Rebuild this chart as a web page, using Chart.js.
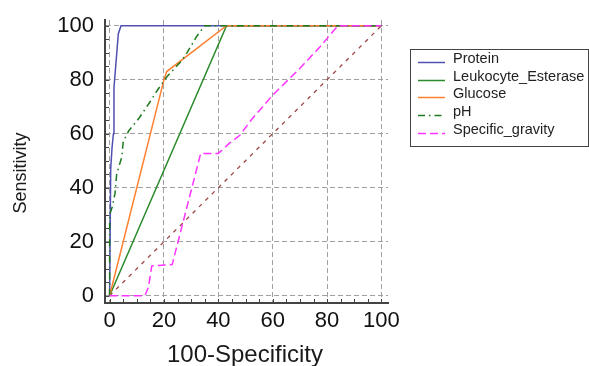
<!DOCTYPE html>
<html>
<head>
<meta charset="utf-8">
<script src="https://cdn.jsdelivr.net/npm/chart.js@4"></script>
<style>
body { margin: 0; background: #fff; }
#wrap { position: relative; width: 589px; height: 366px; }
#legend { position: absolute; left: 410px; top: 49px; width: 177px; height: 96px; border: 1px solid #444;
  font: 14.5px "Liberation Sans", Arial, sans-serif; color: #222; }
.row { position: absolute; left: 0; width: 176px; height: 18px; line-height: 18px; white-space: nowrap; }
.row svg { position: absolute; left: 7px; top: 0; }
.row span { position: absolute; left: 42px; top: 0; }
</style>
</head>
<body>
<div id="wrap">
  <canvas id="roc"></canvas>
  <div id="legend"></div>
</div>
<script>
// axis ticks
const tickValues = [0, 20, 40, 60, 80, 100];

// ROC curves (100-Specificity, Sensitivity)
const proteinX = [0, 0.4, 0.9, 1.4, 1.6, 2.4, 3.2, 4.2, 100];
const proteinY = [0, 47, 55, 60, 77, 87, 97, 100, 100];

const leukoX = [0, 43, 100];
const leukoY = [0, 100, 100];

const glucoseX = [0, 20, 21, 43, 100];
const glucoseY = [0, 80, 83, 100, 100];

const phX = [0, 0, 1, 2, 2.6, 4.5, 5, 7, 11, 15, 17.5, 21, 26.5, 28.5, 32, 35, 100];
const phY = [0, 30, 33, 38, 45, 51.5, 57, 61, 66, 72, 76, 81, 87, 90, 96, 100, 100];

const sgX = [0, 13, 14.3, 15.5, 23, 33.5, 40, 44, 48, 52, 60, 70, 77.4, 84, 100];
const sgY = [0, 0, 3.3, 11, 11.5, 52.7, 52.7, 56.4, 59.5, 65, 74.3, 84.2, 92.2, 100, 100];

const diagX = [0, 100];
const diagY = [0, 100];

const names = ['Protein', 'Leukocyte_Esterase', 'Glucose', 'pH', 'Specific_gravity'];
const colors = ['#5050b4', '#2a8a2a', '#ff8030', '#1e7a1e', '#ff33ff'];
const dashes = [[], [], [], [7, 4, 1.5, 4], [8, 4]];

function pts(xs, ys) {
  return xs.map((x, i) => ({ x: x, y: ys[i] }));
}

const curves = [pts(proteinX, proteinY), pts(leukoX, leukoY), pts(glucoseX, glucoseY), pts(phX, phY), pts(sgX, sgY)];

const datasets = curves.map((d, i) => ({
  label: names[i],
  data: d,
  borderColor: colors[i],
  borderWidth: 1.5,
  borderDash: dashes[i],
  pointRadius: 0,
  fill: false,
  tension: 0,
  order: 5 - i
}));
datasets.push({
  label: 'ref',
  data: pts(diagX, diagY),
  borderColor: '#a04545',
  borderWidth: 1.3,
  borderDash: [4, 5],
  pointRadius: 0,
  fill: false,
  order: 6
});

// small ticks pointing into the plot + axis titles
const extras = {
  id: 'extras',
  afterDraw(chart) {
    const ctx = chart.ctx;
    const xs = chart.scales.x, ys = chart.scales.y;
    const a = chart.chartArea;
    ctx.save();
    ctx.strokeStyle = '#444';
    ctx.lineWidth = 1;
    for (let v = 0; v <= 100; v += 5) {
      const px = Math.round(xs.getPixelForValue(v)) + 0.5;
      ctx.beginPath(); ctx.moveTo(px, a.bottom); ctx.lineTo(px, a.bottom - 4); ctx.stroke();
      const py = Math.round(ys.getPixelForValue(v)) + 0.5;
      ctx.beginPath(); ctx.moveTo(a.left, py); ctx.lineTo(a.left + 4, py); ctx.stroke();
    }
    ctx.fillStyle = '#1a1a1a';
    ctx.textAlign = 'center';
    ctx.textBaseline = 'middle';
    ctx.font = '24px "Liberation Sans", Arial, sans-serif';
    ctx.fillText('100-Specificity', 245, 355.5);
    ctx.translate(21, 173);
    ctx.rotate(-Math.PI / 2);
    ctx.font = '18px "Liberation Sans", Arial, sans-serif';
    ctx.fillText('Sensitivity', 0, 0);
    ctx.restore();
  }
};

const axisCommon = {
  type: 'linear',
  afterBuildTicks: s => { s.ticks = tickValues.map(v => ({ value: v })); },
  grid: { color: '#a0a0a0', lineWidth: 1, drawTicks: false },
  border: { color: '#444', width: 2, dash: [5, 3] },
  ticks: { color: '#111', font: { family: '"Liberation Sans", Arial, sans-serif', size: 22 } }
};

new Chart(document.getElementById('roc'), {
  type: 'line',
  data: { datasets: datasets },
  options: {
    responsive: true,
    maintainAspectRatio: false,
    animation: false,
    layout: { padding: { left: 0, top: 20, right: 201, bottom: 0 } },
    plugins: { legend: { display: false }, tooltip: { enabled: false } },
    scales: {
      x: Object.assign({}, axisCommon, {
        min: -1.7, max: 102.4,
        ticks: Object.assign({}, axisCommon.ticks, { padding: 5, maxRotation: 0 }),
        afterFit: s => { s.height = 63; s.paddingLeft = 0; s.paddingRight = 0; }
      }),
      y: Object.assign({}, axisCommon, {
        min: -2.7, max: 102.1,
        ticks: Object.assign({}, axisCommon.ticks, { padding: 11 }),
        afterFit: s => { s.width = 105; s.paddingTop = 0; s.paddingBottom = 0; }
      })
    }
  },
  plugins: [extras]
});

// legend box
const legend = document.getElementById('legend');
names.forEach((n, i) => {
  const row = document.createElement('div');
  row.className = 'row';
  row.style.top = (-1 + i * 17.7) + 'px';
  row.innerHTML = '<svg width="28" height="18"><line x1="0" y1="13.5" x2="27" y2="13.5" stroke="' + colors[i] +
    '" stroke-width="1.5" stroke-dasharray="' + (dashes[i].length ? dashes[i].join(' ') : 'none') + '"/></svg><span>' + n + '</span>';
  legend.appendChild(row);
});
</script>
</body>
</html>
